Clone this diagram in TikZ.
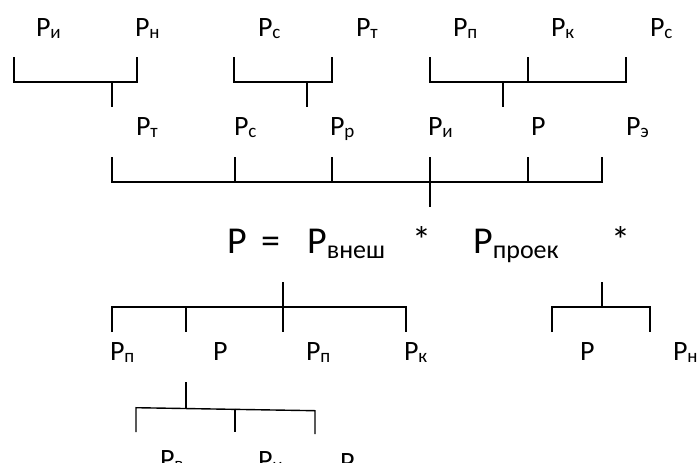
\documentclass[tikz,border=0pt]{standalone}
\usepackage{fontspec}
\setmainfont{Carlito}
\newcommand\Lb[1]{Р\raisebox{-2.5pt}{\fontsize{19}{19}\selectfont #1}}
\newcommand\Bg[1]{Р\raisebox{-5pt}{\fontsize{26}{26}\selectfont #1}}
\tikzset{
  lab/.style={anchor=base west, inner sep=0pt, font=\fontsize{28}{28}\selectfont},
  big/.style={anchor=base west, inner sep=0pt, font=\fontsize{38}{38}\selectfont},
  bigc/.style={anchor=base, inner sep=0pt, font=\fontsize{38}{38}\selectfont},
  br/.style={line width=1.4pt, line cap=butt, line join=miter},
}
\begin{document}
\begin{tikzpicture}[x=1pt,y=-1pt]
\useasboundingbox (0,0) rectangle (699,463);
% top row labels
\node[lab] (t1) at (35.8,36) {\Lb{и}};
\node[lab] (t2) at (134.8,36) {\Lb{н}};
\node[lab] (t3) at (257.8,36) {\Lb{с}};
\node[lab] (t4) at (355.8,36) {\Lb{т}};
\node[lab] (t5) at (452.8,36) {\Lb{п}};
\node[lab] (t6) at (550.8,36) {\Lb{к}};
\node[lab] (t7) at (649.8,36) {\Lb{с}};
% top brackets
\draw[br] (14,57) -- (14,82) -- (137,82) -- (137,57);
\draw[br] (112,82) -- (112,107);
\draw[br] (234,57) -- (234,82) -- (332,82) -- (332,57);
\draw[br] (307,82) -- (307,107);
\draw[br] (430,57) -- (430,82) -- (626,82) -- (626,57);
\draw[br] (528,57) -- (528,82);
\draw[br] (503,82) -- (503,107);
% second row labels
\node[lab] (s1) at (135.8,135) {\Lb{т}};
\node[lab] (s2) at (233.8,135) {\Lb{с}};
\node[lab] (s3) at (329.8,135) {\Lb{р}};
\node[lab] (s4) at (427.8,135) {\Lb{и}};
\node[lab] (s5) at (530.8,135) {Р};
\node[lab] (s6) at (625.8,135) {\Lb{э}};
% second bracket
\draw[br] (112,157) -- (112,182) -- (602,182) -- (602,157);
\draw[br] (235,157) -- (235,182);
\draw[br] (332,157) -- (332,182);
\draw[br] (430,157) -- (430,207);
\draw[br] (528,157) -- (528,182);
% formula
\node[big] (f1) at (227,253) {Р};
\node[bigc] (f2) at (270.5,253) {=};
\node[big] (f3) at (307,253) {\Bg{внеш}};
\node[bigc] (f4) at (421.5,253) {*};
\node[big] (f5) at (473,253) {\Bg{проек}};
\node[bigc] (f6) at (620.5,253) {*};
% lower left bracket
\draw[br] (283,282) -- (283,332);
\draw[br] (112,332) -- (112,307) -- (406,307) -- (406,332);
\draw[br] (186,307) -- (186,332);
\node[lab] (l1) at (109.8,360) {\Lb{п}};
\node[lab] (l2) at (212.8,360) {Р};
\node[lab] (l3) at (305.8,360) {\Lb{п}};
\node[lab] (l4) at (403.8,360) {\Lb{к}};
% lower right bracket
\draw[br] (602,282) -- (602,307);
\draw[br] (552,332) -- (552,307) -- (650,307) -- (650,332);
\node[lab] (r1) at (579.8,360) {Р};
\node[lab] (r2) at (672.8,360) {\Lb{н}};
% bottom bracket
\draw[br] (186,382) -- (186,407.7);
\draw[br] (136,432) -- (136,407.7) -- (315,410.7) -- (315,434);
\draw[br] (235,408.5) -- (235,432);
\node[lab] (b1) at (159.8,468) {\Lb{в}};
\node[lab] (b2) at (257.8,469) {\Lb{и}};
\node[lab] (b3) at (339.8,471) {\Lb{э}};
\end{tikzpicture}
\end{document}
